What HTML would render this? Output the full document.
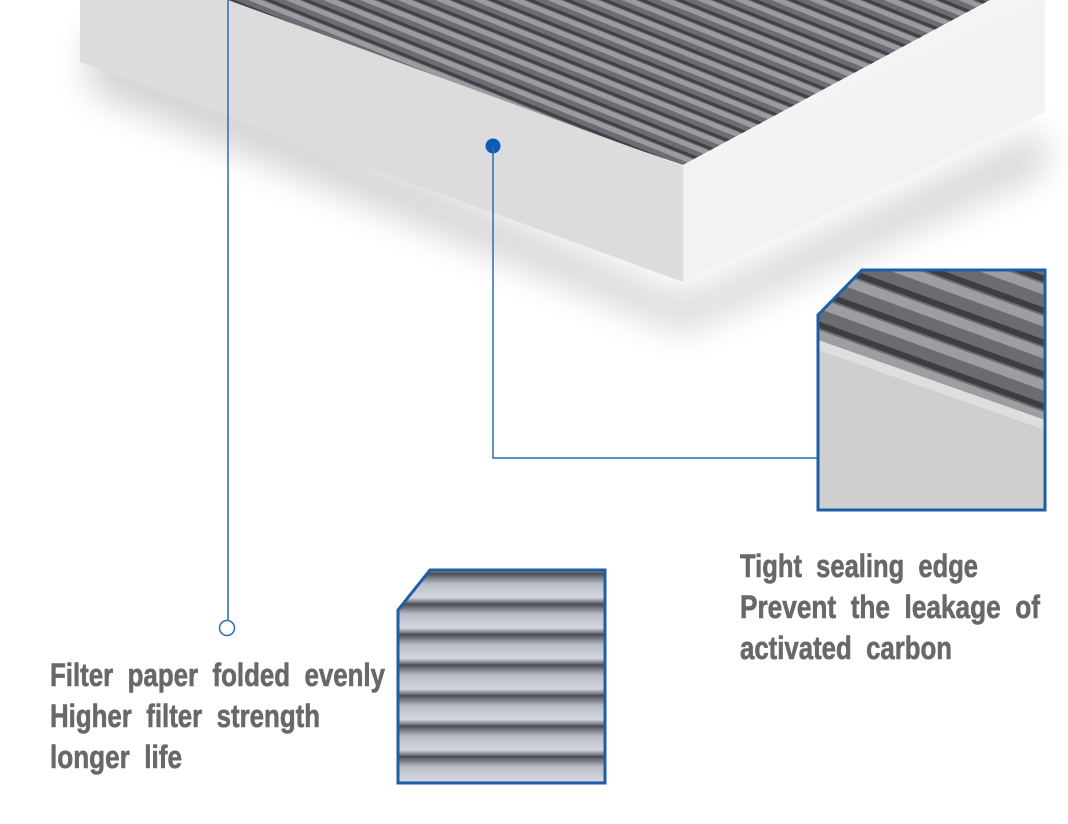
<!DOCTYPE html>
<html><head><meta charset="utf-8"><style>
html,body{margin:0;padding:0;background:#fff;}
svg{display:block;}
text{font-family:"Liberation Sans",sans-serif;font-weight:bold;fill:#686868;font-size:32px;white-space:pre;stroke:#686868;stroke-width:0.6px;}
</style></head><body>
<svg width="1068" height="824" viewBox="0 0 1068 824" xmlns="http://www.w3.org/2000/svg">
<defs>
<pattern id="pl" patternUnits="userSpaceOnUse" width="14" height="14" patternTransform="rotate(22)">
<rect width="14" height="14" fill="#6b6d72"/>
<rect y="0" width="14" height="5" fill="#9a9ca0"/>
<rect y="10" width="14" height="3" fill="#3f4146"/>
</pattern>
<pattern id="pl2" patternUnits="userSpaceOnUse" width="30" height="30" patternTransform="rotate(20)">
<rect width="30" height="30" fill="#6a6c70"/>
<rect width="30" height="10" fill="#9c9ea2"/>
<rect y="22" width="30" height="6" fill="#3c3e42"/>
</pattern>
<linearGradient id="hp" x1="0" y1="0" x2="0" y2="1">
<stop offset="0" stop-color="#45474d"/><stop offset="0.35" stop-color="#b8bcc6"/><stop offset="0.8" stop-color="#d4d7de"/><stop offset="1" stop-color="#5d6068"/>
</linearGradient>
<pattern id="hpp" patternUnits="userSpaceOnUse" width="210" height="30.5" y="573">
<rect width="210" height="30.5" fill="url(#hp)"/>
</pattern>
<filter id="sh" x="-20%" y="-20%" width="140%" height="160%"><feGaussianBlur stdDeviation="18"/></filter>
</defs>
<polygon points="90,30 683,300 1045,130 1045,170 683,330 90,90" fill="#000" opacity="0.18" filter="url(#sh)"/>
<polygon points="200,0 990,0 683,165" fill="url(#pl)"/>
<polygon points="80,0 228,0 683,166 683,282 80,62" fill="#dcdcdc"/>
<polygon points="990,0 1045,0 1045,12 700,170 683,165" fill="#f4f4f4"/>
<polygon points="683,166 1045,0 1045,112 683,282" fill="#f2f2f2"/>
<line x1="683" y1="166" x2="683" y2="282" stroke="#e0e0e0" stroke-width="1"/>
<line x1="228" y1="0" x2="228" y2="620" stroke="#2a6fb0" stroke-width="1.5"/>
<circle cx="227" cy="628" r="7.5" fill="#fff" stroke="#2a6fb0" stroke-width="1.5"/>
<circle cx="493" cy="146" r="7.5" fill="#0b5cb8"/>
<polyline points="493,146 493,458 818,458" fill="none" stroke="#2a6fb0" stroke-width="1.5"/>
<clipPath id="c2"><polygon points="818,315 862,270 1045,270 1045,510 818,510"/></clipPath>
<g clip-path="url(#c2)">
<rect x="818" y="270" width="227" height="240" fill="url(#pl2)"/>
<polygon points="818,340 1045,420 1045,510 818,510" fill="#cfcfcf"/>
<polygon points="818,340 1045,420 1045,430 818,350" fill="#dedede"/>
</g>
<polygon points="818,315 862,270 1045,270 1045,510 818,510" fill="none" stroke="#1e5ea8" stroke-width="3"/>
<clipPath id="c1"><polygon points="398,610 430,570 605,570 605,783 398,783"/></clipPath>
<g clip-path="url(#c1)"><rect x="398" y="570" width="207" height="213" fill="url(#hpp)"/></g>
<polygon points="398,610 430,570 605,570 605,783 398,783" fill="none" stroke="#1e5ea8" stroke-width="3"/>
<text x="50" y="686" textLength="335" lengthAdjust="spacingAndGlyphs" xml:space="preserve">Filter  paper  folded  evenly</text>
<text x="50" y="727" textLength="270" lengthAdjust="spacingAndGlyphs" xml:space="preserve">Higher  filter  strength</text>
<text x="50" y="768" textLength="132" lengthAdjust="spacingAndGlyphs" xml:space="preserve">longer  life</text>
<text x="740" y="577" textLength="238" lengthAdjust="spacingAndGlyphs" xml:space="preserve">Tight  sealing  edge</text>
<text x="740" y="618" textLength="300" lengthAdjust="spacingAndGlyphs" xml:space="preserve">Prevent  the  leakage  of</text>
<text x="740" y="659" textLength="212" lengthAdjust="spacingAndGlyphs" xml:space="preserve">activated  carbon</text>
</svg>
</body></html>
